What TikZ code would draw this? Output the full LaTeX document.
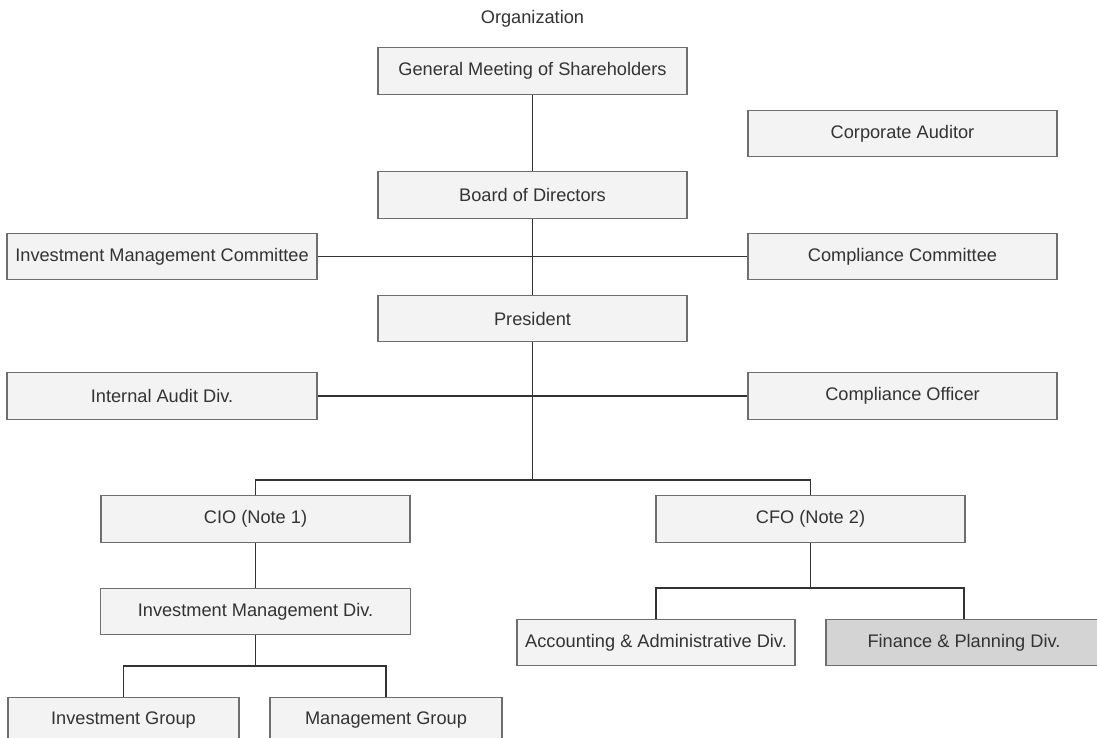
\documentclass[tikz,border=0pt]{standalone}
\usepackage{fontspec}
\setmainfont{Liberation Sans}
\definecolor{boxfill}{HTML}{F3F3F3}
\definecolor{boxdark}{HTML}{D4D4D4}
\definecolor{boxline}{HTML}{6E6E6E}
\definecolor{inkline}{HTML}{333333}
\definecolor{txt}{HTML}{333333}
\begin{document}
\begin{tikzpicture}[x=1pt,y=-1pt,
  orgbox/.style={draw=boxline, fill=boxfill, line width=1.1pt, inner sep=0pt,
    minimum width=309pt, minimum height=46.5pt, text=txt,
    font=\fontsize{18.2pt}{21pt}\selectfont},
  darkbox/.style={orgbox, fill=boxdark},
  link/.style={draw=inkline, line width=1.3pt},
  titletext/.style={text=txt, inner sep=0pt, font=\fontsize{18.2pt}{21pt}\selectfont}]
\clip (0,0) rectangle (1097,738);
\fill[white] (0,0) rectangle (1097,738);

\node[titletext] (title) at (532.5,19) {Organization};

\node[orgbox] (gms)  at (532.5,71)    {General Meeting of Shareholders};
\node[orgbox] (ca)   at (902.5,133.5) {Corporate Auditor};
\node[orgbox] (bod)  at (532.5,195)   {Board of Directors};
\node[orgbox, minimum width=310pt] (imc) at (162,256.5) {Investment Management Committee};
\node[orgbox] (cc)   at (902.5,256.5) {Compliance Committee};
\node[orgbox] (pres) at (532.5,318.5) {President};
\node[orgbox, minimum width=310pt] (iad) at (162,396) {Internal Audit Div.};
\node[orgbox] (co)   at (902.5,396)   {Compliance Officer};
\node[orgbox] (cio)  at (255.5,519)   {CIO (Note 1)};
\node[orgbox] (cfo)  at (810.5,519)   {CFO (Note 2)};
\node[orgbox, minimum width=310pt] (imd) at (255.5,611.5) {Investment Management Div.};
\node[orgbox, minimum width=278pt] (aad) at (656,642.5) {Accounting \& Administrative Div.};
\node[darkbox, minimum width=276pt] (fpd) at (964,642.5) {Finance \& Planning Div.};
\node[orgbox, minimum width=231pt] (ig)  at (123.5,720.5) {Investment Group};
\node[orgbox, minimum width=232pt] (mg)  at (386,720.5)   {Management Group};

\coordinate (busA) at (532.5,480);
\coordinate (busB) at (255.5,666);
\coordinate (busC) at (810.5,588);

\draw[link] (gms.south) -- (bod.north);
\draw[link] (bod.south) -- (pres.north);
\draw[link] (imc.east) -- (cc.west);
\draw[link] (iad.east) -- (co.west);
\draw[link] (pres.south) -- (busA);
\draw[link] (cio.north) |- (busA) -| (cfo.north);
\draw[link] (cio.south) -- (imd.north);
\draw[link] (imd.south) -- (busB);
\draw[link] (ig.north) |- (busB) -| (mg.north);
\draw[link] (cfo.south) -- (busC);
\draw[link] (aad.north) |- (busC) -| (fpd.north);
\end{tikzpicture}
\end{document}
